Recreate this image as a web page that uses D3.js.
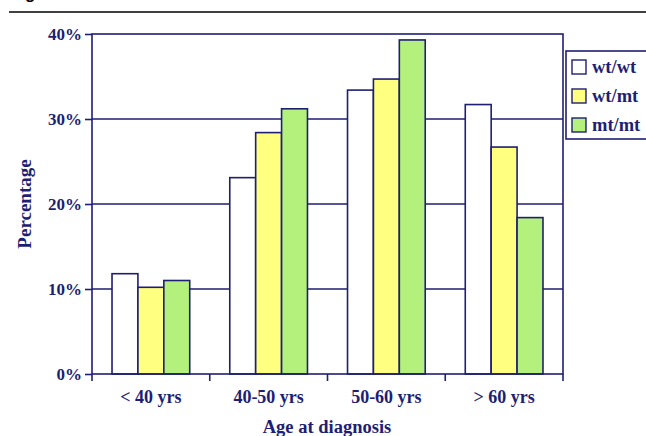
<!DOCTYPE html>
<html>
<head>
<meta charset="utf-8">
<script src="https://cdn.jsdelivr.net/npm/d3@7"></script>
<style>
  body { margin: 0; background: #fff; }
  text { font-family: "Liberation Serif", "Times New Roman", serif; font-weight: bold; }
</style>
</head>
<body>
<div id="chart"></div>
<script>
(function(){
    // data
    const categories = ['< 40 yrs', '40-50 yrs', '50-60 yrs', '> 60 yrs'];
    const series = ['wt/wt', 'wt/mt', 'mt/mt'];
    const wtwt = [11.8, 23.1, 33.4, 31.7];
    const wtmt = [10.2, 28.4, 34.7, 26.7];
    const mtmt = [11.0, 31.2, 39.3, 18.4];
    const yTicks = [0, 10, 20, 30, 40];

    const values = [wtwt, wtmt, mtmt];
    const colors = ['#ffffff', '#ffff80', '#b3f07c'];
    const navy = '#1e1e72';

    const margin = { top: 34, left: 92, bottom: 62, right: 83 };
    const fullWidth = 646;
    const fullHeight = 436;
    const width = fullWidth - margin.left - margin.right;
    const height = fullHeight - margin.top - margin.bottom;

    const root = d3.select('#chart')
        .append('svg')
            .attr('width', fullWidth)
            .attr('height', fullHeight);

    // page header remnant (cropped in the original too)
    root.append('text')
        .attr('x', 10)
        .attr('y', -1)
        .style('font-family', 'Liberation Sans, Arial, sans-serif')
        .style('font-size', '17px')
        .style('fill', '#000')
        .text('Figure');
    root.append('line')
        .attr('x1', 9).attr('x2', 646)
        .attr('y1', 12).attr('y2', 12)
        .style('stroke', '#000')
        .style('stroke-width', 1.5);

    const svg = root.append('g')
        .attr('transform', `translate(${margin.left}, ${margin.top})`);

    const yScale = d3.scaleLinear()
        .domain([0, 40])
        .range([height, 0]);

    const xScale = d3.scaleBand()
        .domain(categories)
        .range([0, width])
        .paddingInner(0.34)
        .paddingOuter(0.17);

    const xInner = d3.scaleBand()
        .domain(series)
        .range([0, xScale.bandwidth()]);

    // gridlines
    svg.selectAll('.grid')
        .data(yTicks.filter(d => d > 0 && d < 40))
        .enter().append('line')
            .attr('x1', 0)
            .attr('x2', width)
            .attr('y1', d => yScale(d))
            .attr('y2', d => yScale(d))
            .style('stroke', navy)
            .style('stroke-width', 1.5);

    // bars
    const groups = svg.selectAll('.group')
        .data(categories)
        .enter().append('g')
            .attr('transform', d => `translate(${xScale(d)}, 0)`);

    groups.selectAll('rect')
        .data((c, i) => series.map((s, j) => ({ s: s, j: j, v: values[j][i] })))
        .enter().append('rect')
            .attr('x', d => xInner(d.s))
            .attr('y', d => yScale(d.v))
            .attr('width', xInner.bandwidth())
            .attr('height', d => height - yScale(d.v))
            .style('fill', d => colors[d.j])
            .style('stroke', navy)
            .style('stroke-width', 1.6);

    // plot frame
    svg.append('rect')
        .attr('width', width)
        .attr('height', height)
        .style('fill', 'none')
        .style('stroke', navy)
        .style('stroke-width', 1.6);

    // y axis
    const yAxis = d3.axisLeft(yScale)
        .tickValues(yTicks)
        .tickSize(7)
        .tickPadding(3)
        .tickFormat(d => d + '%');
    const yG = svg.append('g').call(yAxis);
    yG.select('.domain').remove();
    yG.selectAll('line').style('stroke', navy).style('stroke-width', 1.6);
    yG.selectAll('text')
        .style('font-family', '"Liberation Serif", serif')
        .style('font-size', '17px')
        .style('font-weight', 'bold')
        .style('fill', navy);

    // x axis: ticks at category boundaries
    const step = xScale.step();
    const bounds = d3.range(categories.length + 1).map(i => i * step);
    svg.selectAll('.xtick')
        .data(bounds)
        .enter().append('line')
            .attr('x1', d => d).attr('x2', d => d)
            .attr('y1', height).attr('y2', height + 7)
            .style('stroke', navy)
            .style('stroke-width', 1.6);

    svg.selectAll('.xlabel')
        .data(categories)
        .enter().append('text')
            .attr('x', d => xScale(d) + xScale.bandwidth() / 2)
            .attr('y', height + 29)
            .attr('text-anchor', 'middle')
            .style('font-size', '18px')
            .style('fill', navy)
            .text(d => d);

    // axis titles
    svg.append('text')
        .attr('x', 235)
        .attr('y', height + 59)
        .attr('text-anchor', 'middle')
        .style('font-size', '18.5px')
        .style('fill', navy)
        .text('Age at diagnosis');

    svg.append('text')
        .attr('transform', `translate(${-61}, ${170}) rotate(-90)`)
        .attr('text-anchor', 'middle')
        .style('font-size', '19px')
        .style('fill', navy)
        .text('Percentage');

    // legend
    const legend = root.append('g')
        .attr('transform', 'translate(566, 51)');
    legend.append('rect')
        .attr('width', 90)
        .attr('height', 88)
        .style('fill', '#fff')
        .style('stroke', navy)
        .style('stroke-width', 1.6);
    const items = legend.selectAll('.item')
        .data(series)
        .enter().append('g')
            .attr('transform', (d, i) => `translate(6, ${16 + i * 29})`);
    items.append('rect')
        .attr('y', -7)
        .attr('width', 14)
        .attr('height', 14)
        .style('fill', (d, i) => colors[i])
        .style('stroke', navy)
        .style('stroke-width', 1.4);
    items.append('text')
        .attr('x', 20)
        .attr('y', 6)
        .style('font-size', '18.5px')
        .style('fill', navy)
        .text(d => d);
}())
</script>
</body>
</html>
